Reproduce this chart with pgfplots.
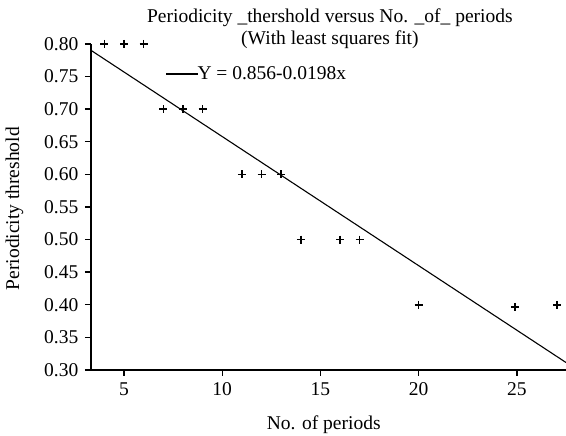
\documentclass[border=0pt]{standalone}
\usepackage{fontspec}
\setmainfont{Liberation Serif}
\usepackage{pgfplots}
\pgfplotsset{compat=1.18}
\begin{document}
\fontsize{19.5}{22}\selectfont
\begin{tikzpicture}
\begin{axis}[
  name=ax,
  scale only axis,
  width=475pt, height=326pt,
  xmin=3.32, xmax=27.5,
  ymin=0.30, ymax=0.80,
  axis lines=left,
  axis line style={-, line width=1.4pt},
  tick style={line width=1.4pt, black},
  tick align=outside,
  major tick length=6pt,
  xtick={5,10,15,20,25},
  ytick={0.30,0.35,0.40,0.45,0.50,0.55,0.60,0.65,0.70,0.75,0.80},
  yticklabel style={/pgf/number format/.cd, fixed, fixed zerofill, precision=2},
  /pgf/number format/assume math mode=true,
  ticklabel style={font=\fontsize{19.5}{22}\selectfont},
  xlabel={No. of periods},
  ylabel={Periodicity threshold},
  label style={font=\fontsize{19.5}{22}\selectfont},
  xlabel style={at={(rel axis cs:0.49,0)}, anchor=base, yshift=-60pt},
  ylabel style={at={(rel axis cs:0,0.495)}, anchor=south, yshift=61pt},
  title style={at={(rel axis cs:0.503,0.968)}, anchor=south, align=center, inner sep=0pt, font=\fontsize{19.5}{22}\selectfont},
  title={Periodicity \_thershold versus No. \_of\_ periods\\(With least squares fit)},
  legend style={at={(axis cs:7.1,0.754)}, anchor=west, draw=none, fill=none, inner sep=0pt, font=\fontsize{19.5}{22}\selectfont},
  legend cell align=left,
  legend image code/.code={\draw[#1] (0pt,0pt) -- (32pt,0pt);},
  clip=false,
]
\addplot[black, line width=1.1pt] coordinates {(3.32,0.7903) (27.5,0.3115)};
\addlegendentry{\hspace{-3pt}Y = 0.856-0.0198x}
\addplot[only marks, mark=+, mark size=4pt, mark options={line width=1.5pt}, black, forget plot] coordinates {
(4,0.8) (5,0.8) (6,0.8)
(7,0.7) (8,0.7) (9,0.7)
(11,0.6) (12,0.6) (13,0.6)
(14,0.5) (16,0.5) (17,0.5)
(20,0.4) (24.9,0.397) (27.05,0.4)
};
\end{axis}
\pgfresetboundingbox
\path ([shift={(-91pt,-66pt)}]ax.south west) rectangle ([shift={(0pt,44pt)}]ax.north east);
\end{tikzpicture}
\end{document}
